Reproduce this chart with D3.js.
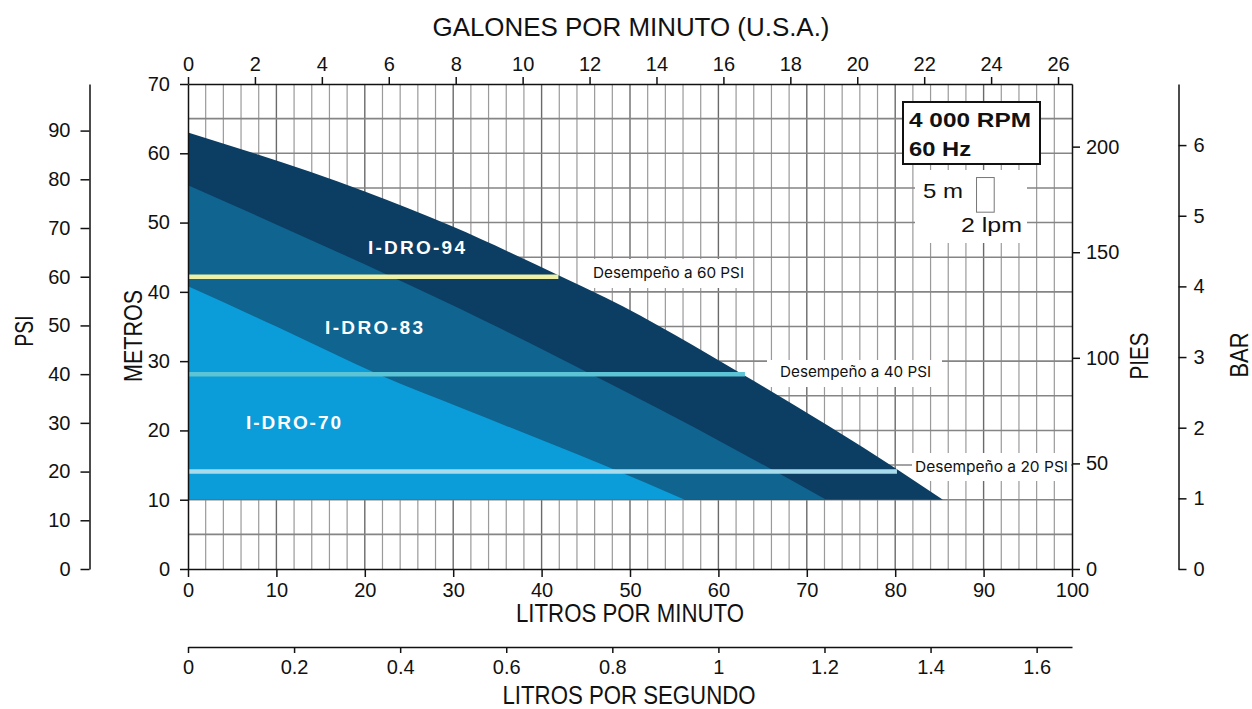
<!DOCTYPE html>
<html>
<head>
<meta charset="utf-8">
<script src="https://cdn.jsdelivr.net/npm/d3@7"></script>
<style>
  html, body { margin: 0; padding: 0; background: #fff; }
  svg { display: block; }
  .tick text { font-family: "Liberation Sans", Arial, sans-serif; font-size: 20px; fill: #111; }
  .axis path, .axis line { stroke: #111; stroke-width: 1.5; }
</style>
</head>
<body>
<svg id="chart" width="1252" height="709"></svg>
<script>
// ---------- DATA ----------
const seriesNames = ["I-DRO-94", "I-DRO-83", "I-DRO-70"];
const flow94 = [0, 7.2, 20, 29.8, 41.9, 47.2, 63, 80.2, 85.4];
const head94 = [63.0, 60.1, 54.5, 49.5, 42.4, 39.2, 27.9, 14.4, 10];
const flow83 = [0, 22.3, 33.6, 41, 45, 56, 58.5, 72.2];
const head83 = [55.4, 42.6, 35.8, 31.1, 28.5, 21.3, 19.6, 10];
const flow70 = [0, 10, 21.7, 31, 41, 47.2, 56.2];
const head70 = [40.8, 35.0, 28.0, 23.2, 18.1, 14.9, 10];
const minHead = 10;                       // metros, base of the shaded areas
const perfPsi = [60, 40, 20];              // performance lines
const perfEndLpm = [41.9, 63.0, 80.2];     // where each line meets the I-DRO-94 curve
const perfLabels = ["Desempeño a 60 PSI", "Desempeño a 40 PSI", "Desempeño a 20 PSI"];
const lpmTicks = [0,10,20,30,40,50,60,70,80,90,100];
const gpmTicks = [0,2,4,6,8,10,12,14,16,18,20,22,24,26];
const metrosTicks = [0,10,20,30,40,50,60,70];
const psiTicks = [0,10,20,30,40,50,60,70,80,90];
const piesTicks = [0,50,100,150,200];
const barTicks = [0,1,2,3,4,5,6];
const lpsTicks = [0,0.2,0.4,0.6,0.8,1,1.2,1.4,1.6];
const speedLines = ["4 000 RPM", "60 Hz"];

// ---------- LAYOUT ----------
const svg = d3.select("#chart");
const X0 = 188, X1 = 1072, Y0 = 569, Y1 = 84;
const x = d3.scaleLinear().domain([0, 100]).range([X0, X1]);
const y = d3.scaleLinear().domain([0, 70]).range([Y0, Y1]);
const xGpm = d3.scaleLinear().domain([0, 100 / 3.78541]).range([X0, X1]);
const xLps = d3.scaleLinear().domain([0, 100 / 60]).range([X0, X1]);
const yPsi = d3.scaleLinear().domain([0, 70 * 1.42233]).range([Y0, Y1]);
const yFt = d3.scaleLinear().domain([0, 70 * 3.28084]).range([Y0, Y1]);
const yBar = d3.scaleLinear().domain([0, 70 / 10.1972]).range([Y0, Y1]);

const colors = ["#0c3d63", "#0f6490", "#0b9dd9"];
const perfColors = ["#eef0a6", "#5cc4d4", "#a8dcec"];

// ---------- GRID ----------
const grid = svg.append("g");
d3.range(2, 100, 2).forEach(v => {
  const major = v % 10 === 0;
  grid.append("line")
    .attr("x1", x(v)).attr("x2", x(v)).attr("y1", Y1).attr("y2", Y0)
    .attr("stroke", major ? "#6a6a6a" : "#9a9a9a")
    .attr("stroke-width", major ? 1.4 : 1.2);
});
d3.range(5, 70, 5).forEach(v => {
  grid.append("line")
    .attr("x1", X0).attr("x2", X1).attr("y1", y(v)).attr("y2", y(v))
    .attr("stroke", "#858585").attr("stroke-width", 1.6);
});

// white boxes that mask the grid behind notes
const masks = [
  [586, 259, 164, 29],
  [767, 360, 175, 27],
  [912, 453, 159, 28],
  [915, 170, 112, 73]
];
masks.forEach(m => svg.append("rect")
  .attr("x", m[0]).attr("y", m[1]).attr("width", m[2]).attr("height", m[3])
  .attr("fill", "#fff"));

// ---------- AREAS ----------
const area = d3.area()
  .x(d => x(d[0])).y0(y(minHead)).y1(d => y(d[1]))
  .curve(d3.curveMonotoneX);
const seriesData = [
  d3.zip(flow94, head94),
  d3.zip(flow83, head83),
  d3.zip(flow70, head70)
];
seriesData.forEach((s, i) => {
  svg.append("path").attr("d", area(s)).attr("fill", colors[i]);
});

// performance lines
perfPsi.forEach((p, i) => {
  svg.append("line")
    .attr("x1", x(0)).attr("x2", x(perfEndLpm[i]))
    .attr("y1", yPsi(p)).attr("y2", yPsi(p))
    .attr("stroke", perfColors[i]).attr("stroke-width", 4.5);
});

// ---------- AXES ----------
function styleAxis(g) {
  g.attr("class", "axis");
  g.select(".domain").attr("stroke", "#111").attr("stroke-width", 1.5);
  g.selectAll(".tick line").attr("stroke", "#111").attr("stroke-width", 1.5);
}
svg.append("g").attr("transform", `translate(0,${Y0})`)
  .call(d3.axisBottom(x).tickValues(lpmTicks).tickSize(8).tickPadding(6).tickSizeOuter(0))
  .call(styleAxis);
svg.append("g").attr("transform", `translate(0,${Y1})`)
  .call(d3.axisTop(xGpm).tickValues(gpmTicks).tickSize(7).tickPadding(6).tickSizeOuter(0))
  .call(styleAxis);
svg.append("g").attr("transform", `translate(${X0},0)`)
  .call(d3.axisLeft(y).tickValues(metrosTicks).tickSize(8).tickPadding(10).tickSizeOuter(0))
  .call(styleAxis);
svg.append("g").attr("transform", `translate(${X1},0)`)
  .call(d3.axisRight(yFt).tickValues(piesTicks).tickSize(8).tickPadding(6).tickSizeOuter(0))
  .call(styleAxis);
svg.append("g").attr("transform", `translate(89.5,0)`)
  .call(d3.axisLeft(yPsi).tickValues(psiTicks).tickSize(9).tickPadding(10).tickSizeOuter(0))
  .call(styleAxis);
svg.append("g").attr("transform", `translate(1178.5,0)`)
  .call(d3.axisRight(yBar).tickValues(barTicks).tickSize(8).tickPadding(7).tickSizeOuter(0)
    .tickFormat(d3.format("d")))
  .call(styleAxis);
svg.append("g").attr("transform", `translate(0,647)`)
  .call(d3.axisBottom(xLps).tickValues(lpsTicks).tickSize(6).tickPadding(7).tickSizeOuter(0)
    .tickFormat(d3.format("~g")))
  .call(styleAxis);

// ---------- TITLES ----------
const titleFont = '"Liberation Sans Narrow", "Liberation Sans", Arial, sans-serif';
function title(txt, cx, cy, len, rot) {
  const t = svg.append("text")
    .attr("font-family", titleFont).attr("font-size", 25).attr("fill", "#111")
    .attr("text-anchor", "middle")
    .attr("textLength", len).attr("lengthAdjust", "spacingAndGlyphs")
    .text(txt);
  if (rot) t.attr("transform", `translate(${cx},${cy}) rotate(-90)`);
  else t.attr("x", cx).attr("y", cy);
}
title("GALONES POR MINUTO (U.S.A.)", 631, 36, 397);
title("LITROS POR MINUTO", 630, 622, 228);
title("LITROS POR SEGUNDO", 629, 704, 253);
title("METROS", 142, 336, 92, true);
title("PSI", 33, 331, 31, true);
title("PIES", 1148, 356, 47, true);
title("BAR", 1248, 355, 45, true);

// ---------- SERIES LABELS ----------
const seriesLabelPos = [[368, 254, 97], [325, 334, 98], [246, 429, 95]];
seriesNames.forEach((n, i) => {
  svg.append("text")
    .attr("x", seriesLabelPos[i][0]).attr("y", seriesLabelPos[i][1])
    .attr("font-family", '"Liberation Sans", Arial, sans-serif')
    .attr("font-weight", "bold").attr("font-size", 19).attr("fill", "#fff")
    .attr("textLength", seriesLabelPos[i][2]).attr("lengthAdjust", "spacing")
    .text(n);
});

// performance labels
const perfLabelPos = [[593, 278, 151], [780, 377, 151], [915, 472, 153]];
perfLabels.forEach((l, i) => {
  svg.append("text")
    .attr("x", perfLabelPos[i][0]).attr("y", perfLabelPos[i][1])
    .attr("font-family", 'Inter, "Liberation Sans", sans-serif')
    .attr("font-size", 15).attr("fill", "#111")
    .attr("textLength", perfLabelPos[i][2]).attr("lengthAdjust", "spacingAndGlyphs")
    .text(l);
});

// ---------- SPEED BOX ----------
svg.append("rect").attr("x", 903).attr("y", 102).attr("width", 137).attr("height", 62)
  .attr("fill", "#fff").attr("stroke", "#111").attr("stroke-width", 2);
speedLines.forEach((s, i) => {
  svg.append("text").attr("x", 909).attr("y", 127 + i * 29)
    .attr("font-family", '"Liberation Sans", Arial, sans-serif')
    .attr("font-weight", "bold").attr("font-size", 21).attr("fill", "#111")
    .attr("textLength", i === 0 ? 122 : 62).attr("lengthAdjust", "spacingAndGlyphs")
    .text(s);
});

// ---------- SCALE KEY (2 lpm x 5 m) ----------
svg.append("rect")
  .attr("x", x(89.2)).attr("y", y(56.5))
  .attr("width", x(2) - x(0)).attr("height", y(0) - y(5))
  .attr("fill", "#fff").attr("stroke", "#777").attr("stroke-width", 1);
svg.append("text").attr("x", 923).attr("y", 198)
  .attr("font-family", '"Liberation Sans", Arial, sans-serif').attr("font-size", 21).attr("fill", "#111")
  .attr("textLength", 40).attr("lengthAdjust", "spacingAndGlyphs")
  .text("5 m");
svg.append("text").attr("x", 961).attr("y", 232)
  .attr("font-family", '"Liberation Sans", Arial, sans-serif').attr("font-size", 21).attr("fill", "#111")
  .attr("textLength", 61).attr("lengthAdjust", "spacingAndGlyphs")
  .text("2 lpm");
</script>
</body>
</html>
